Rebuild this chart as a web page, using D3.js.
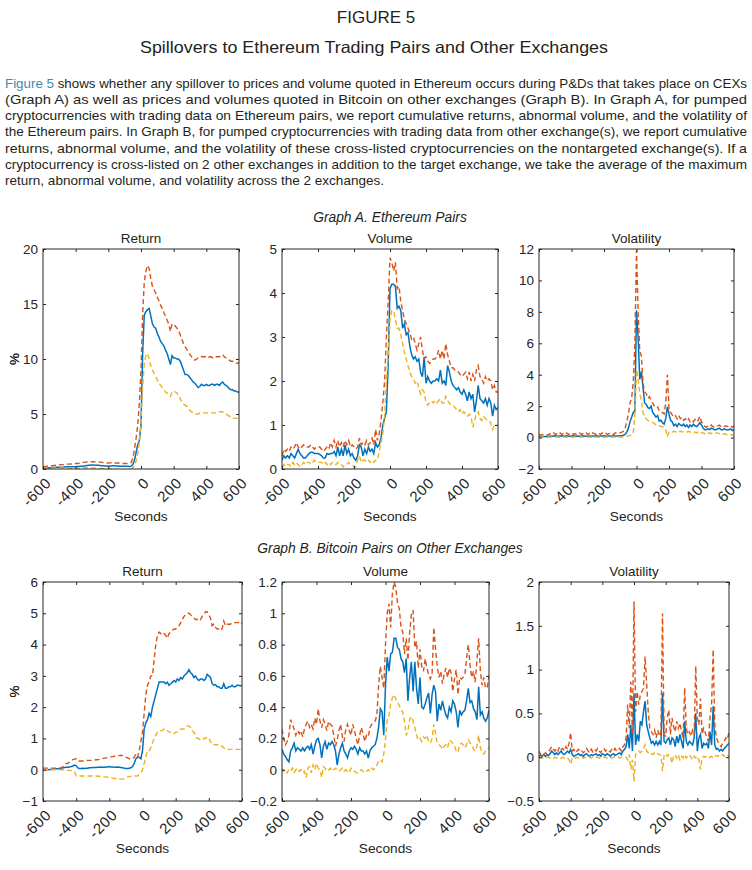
<!DOCTYPE html>
<html>
<head>
<meta charset="utf-8">
<script src="https://cdn.jsdelivr.net/npm/d3@7"></script>
<style>
body { margin:0; background:#fff; }
svg text { font-family: "Liberation Sans", Arial, Helvetica, sans-serif; fill:#231f20; }
</style>
</head>
<body>
<div id="chart"></div>
<script>
// time grid, seconds around the pump
var secs = d3.range(-600, 601, 10);
var xTicks = [-600, -400, -200, 0, 200, 400, 600];
var xTickLabels = ["-600", "-400", "-200", "0", "200", "400", "600"];

// Graph A - Ethereum pairs
var ethRetMid = [0.1,0.1,0.1,0.12,0.12,0.12,0.13,0.14,0.15,0.15,
	0.15,0.16,0.17,0.18,0.2,0.2,0.2,0.2,0.2,0.2,
	0.2,0.22,0.22,0.24,0.25,0.27,0.3,0.32,0.34,0.35,
	0.36,0.36,0.35,0.34,0.33,0.32,0.3,0.3,0.28,0.27,
	0.25,0.27,0.28,0.3,0.3,0.28,0.27,0.26,0.26,0.25,
	0.25,0.24,0.24,0.22,0.25,0.4,0.8,1.5,2.2,2.6,
	4.0,10.5,14.0,14.3,14.5,14.6,13.9,13.2,12.9,12.8,
	12.3,12.0,11.6,11.4,11.2,10.8,10.5,10.0,9.5,10.3,
	10.1,10.1,10.0,10.0,9.8,9.4,9.0,8.6,8.6,8.5,
	8.3,8.1,7.9,7.8,7.6,7.4,7.5,7.7,7.6,7.6,
	7.7,7.6,7.6,7.7,7.7,7.6,7.7,7.7,7.6,7.8,
	7.9,7.7,7.6,7.5,7.3,7.2,7.2,7.1,7.1,7.0,
	7.0];
var ethRetUp = [0.2,0.22,0.24,0.26,0.28,0.3,0.3,0.32,0.34,0.36,
	0.38,0.4,0.4,0.42,0.42,0.44,0.44,0.45,0.46,0.48,
	0.5,0.5,0.52,0.55,0.58,0.6,0.62,0.64,0.65,0.65,
	0.66,0.66,0.65,0.65,0.64,0.62,0.6,0.58,0.56,0.55,
	0.55,0.56,0.57,0.56,0.55,0.55,0.54,0.52,0.5,0.5,
	0.5,0.5,0.5,0.52,0.6,1.0,1.8,2.8,4.0,6.0,
	9.0,14.0,17.0,18.0,18.5,18.2,17.3,16.6,16.3,16.0,
	15.6,15.3,14.9,14.6,14.2,13.9,13.5,13.2,12.5,13.2,
	13.1,13.0,12.8,12.6,12.2,11.8,11.4,11.1,10.9,10.6,
	10.4,10.2,10.0,9.9,10.0,10.1,10.2,10.2,10.2,10.2,
	10.2,10.1,10.2,10.2,10.1,10.2,10.2,10.2,10.2,10.3,
	10.4,10.2,10.1,10.0,9.9,9.8,9.8,9.7,9.6,9.6,
	9.7];
var ethRetLow = [0.1,0.1,0.1,0.1,0.1,0.1,0.1,0.1,0.1,0.1,
	0.1,0.1,0.1,0.08,0.08,0.06,0.06,0.05,0.05,0.05,
	0.05,0.06,0.08,0.1,0.1,0.12,0.12,0.12,0.1,0.1,
	0.1,0.1,0.08,0.06,0.05,0.05,0.05,0.04,0.02,0.0,
	0.0,0.0,0.0,-0.02,-0.04,-0.05,-0.06,-0.08,-0.1,-0.1,
	-0.1,-0.1,-0.1,-0.1,0.0,0.1,0.3,0.7,1.4,2.5,
	4.2,7.5,9.5,10.3,10.5,10.0,9.4,9.0,8.7,8.4,
	8.1,7.8,7.6,7.4,7.2,7.0,6.9,6.8,6.6,7.0,
	7.1,7.0,6.9,6.7,6.4,6.1,5.9,5.8,5.7,5.5,
	5.3,5.2,5.1,5.0,5.0,5.0,5.1,5.1,5.1,5.1,
	5.1,5.1,5.1,5.1,5.1,5.1,5.1,5.1,5.2,5.2,
	5.2,5.1,5.0,4.9,4.8,4.7,4.7,4.6,4.6,4.6,
	4.6];

var ethVolMid = [0.2,0.3,0.25,0.3,0.25,0.35,0.3,0.25,0.35,0.45,
	0.35,0.3,0.25,0.25,0.3,0.35,0.38,0.38,0.35,0.35,
	0.35,0.33,0.3,0.25,0.25,0.35,0.33,0.35,0.35,0.4,
	0.3,0.5,0.3,0.45,0.3,0.55,0.35,0.45,0.3,0.35,
	0.25,0.2,0.3,0.55,0.5,0.3,0.45,0.35,0.5,0.4,
	0.45,0.35,0.6,0.5,0.55,0.7,1.0,1.15,1.3,2.4,
	4.1,4.2,4.2,4.15,3.65,3.7,3.6,3.2,3.3,3.05,
	3.1,2.8,2.6,2.5,2.55,2.45,2.5,2.2,2.1,2.55,
	1.95,2.1,2.0,1.95,2.0,2.0,2.05,2.0,2.25,1.95,
	2.0,1.9,2.35,2.2,2.0,1.9,1.85,1.8,1.85,1.75,
	1.7,1.8,1.7,1.55,1.75,1.6,1.7,1.3,1.55,1.9,
	1.6,1.55,1.5,1.6,1.45,1.6,1.5,1.2,1.45,1.35,
	1.4];
var ethVolUp = [0.3,0.45,0.4,0.45,0.4,0.5,0.45,0.5,0.6,0.5,
	0.45,0.5,0.55,0.5,0.5,0.5,0.55,0.5,0.45,0.5,
	0.5,0.5,0.45,0.4,0.45,0.5,0.45,0.6,0.5,0.65,
	0.5,0.65,0.5,0.6,0.5,0.65,0.55,0.65,0.5,0.55,
	0.5,0.45,0.5,0.7,0.55,0.6,0.55,0.65,0.55,0.6,
	0.7,0.55,0.9,0.65,0.8,1.1,1.5,2.0,3.0,3.8,
	4.8,4.7,4.5,4.7,4.1,4.15,3.8,3.6,3.4,3.3,
	3.2,3.1,2.95,3.0,2.85,2.7,2.85,3.0,2.7,2.5,
	2.55,2.45,2.4,2.45,2.5,2.5,2.55,2.7,2.5,2.7,
	2.5,2.85,2.6,2.45,2.3,2.3,2.25,2.25,2.2,2.15,
	2.1,2.15,2.2,2.05,2.2,2.0,2.15,2.0,2.25,2.35,
	2.1,2.05,1.95,2.1,2.0,2.05,2.0,1.8,1.9,1.75,
	1.75];
var ethVolLow = [0.05,0.1,0.05,0.1,0.1,0.05,0.15,0.1,0.15,0.1,
	0.05,0.1,0.15,0.1,0.15,0.15,0.1,0.15,0.2,0.15,
	0.15,0.15,0.15,0.1,0.15,0.1,0.15,0.1,0.15,0.15,
	0.1,0.15,0.1,0.1,0.05,0.1,0.1,0.15,0.1,0.1,
	0.05,0.05,0.2,0.3,0.15,0.2,0.2,0.15,0.2,0.15,
	0.2,0.15,0.2,0.2,0.4,0.6,0.8,1.2,2.0,2.6,
	3.4,3.6,3.6,3.4,3.2,3.2,3.05,2.85,2.65,2.5,
	2.35,2.2,2.1,2.05,1.95,2.0,1.85,1.7,1.8,1.75,
	1.5,1.45,1.5,1.55,1.5,1.55,1.5,1.55,1.6,1.5,
	1.5,1.65,1.55,1.5,1.45,1.45,1.4,1.35,1.3,1.35,
	1.25,1.3,1.25,1.2,1.25,1.2,0.95,1.1,1.25,1.3,
	1.15,1.1,1.2,1.15,1.1,1.1,1.05,0.9,1.0,1.0,
	1.0];

var ethVolaMid = [0.05,0.05,0.06,0.08,0.06,0.07,0.08,0.1,0.08,0.1,
	0.12,0.1,0.08,0.1,0.12,0.1,0.08,0.12,0.1,0.08,
	0.1,0.12,0.1,0.08,0.1,0.09,0.1,0.12,0.1,0.08,
	0.1,0.09,0.1,0.1,0.09,0.11,0.1,0.09,0.1,0.1,
	0.11,0.1,0.09,0.1,0.1,0.1,0.11,0.1,0.1,0.1,
	0.12,0.12,0.15,0.2,0.35,0.6,1.0,1.3,1.6,1.7,
	8.1,6.4,3.7,4.2,3.2,2.2,2.1,1.9,1.85,2.0,
	1.6,1.45,1.3,1.4,1.05,1.1,0.95,0.85,1.2,1.95,
	1.5,1.1,1.0,0.75,0.85,0.7,0.9,0.8,0.75,0.85,
	0.7,0.8,0.65,0.8,0.7,0.85,0.75,0.7,0.8,0.95,
	0.8,0.6,0.5,0.5,0.55,0.5,0.6,0.55,0.5,0.5,
	0.55,0.6,0.5,0.5,0.55,0.5,0.5,0.5,0.55,0.45,
	0.5];
var ethVolaUp = [0.2,0.15,0.2,0.15,0.2,0.15,0.2,0.25,0.2,0.3,
	0.2,0.25,0.2,0.3,0.2,0.25,0.2,0.3,0.2,0.25,
	0.3,0.2,0.25,0.2,0.25,0.3,0.2,0.25,0.2,0.3,
	0.2,0.25,0.2,0.3,0.25,0.2,0.3,0.25,0.2,0.3,
	0.25,0.3,0.2,0.25,0.3,0.25,0.2,0.3,0.25,0.3,
	0.3,0.35,0.4,0.6,1.0,1.5,2.2,2.5,3.5,6.0,
	11.9,8.0,5.5,5.2,3.5,2.9,2.8,2.5,2.6,2.3,
	2.2,2.0,1.9,1.95,1.7,1.6,1.6,1.5,2.2,4.0,
	1.8,1.6,1.45,1.3,1.4,1.2,1.4,1.2,1.3,1.1,
	1.2,1.05,1.2,1.0,1.1,1.0,1.15,1.0,1.1,1.35,
	1.0,0.9,0.7,0.65,0.75,0.7,0.8,0.7,0.65,0.7,
	0.75,0.8,0.7,0.65,0.7,0.75,0.7,0.7,0.75,0.65,
	0.75];
var ethVolaLow = [0.02,0.03,0.02,0.04,0.03,0.02,0.03,0.04,0.03,0.02,
	0.03,0.04,0.03,0.02,0.03,0.04,0.03,0.02,0.04,0.03,
	0.02,0.03,0.04,0.03,0.02,0.03,0.04,0.03,0.02,0.03,
	0.04,0.03,0.02,0.03,0.04,0.03,0.02,0.03,0.04,0.03,
	0.02,0.03,0.04,0.03,0.02,0.03,0.04,0.03,0.03,0.04,
	0.03,0.04,0.04,0.05,0.08,0.1,0.12,0.15,0.3,1.5,
	4.3,3.7,2.8,2.4,1.6,1.3,1.2,1.1,1.05,1.0,
	0.95,0.9,0.8,0.75,0.75,0.7,0.7,0.65,0.5,0.05,
	0.35,0.4,0.35,0.4,0.35,0.4,0.35,0.4,0.35,0.4,
	0.35,0.35,0.4,0.35,0.35,0.3,0.35,0.3,0.35,0.4,
	0.3,0.3,0.25,0.3,0.25,0.3,0.25,0.3,0.25,0.3,
	0.3,0.25,0.25,0.2,0.25,0.2,0.2,0.2,0.2,0.15,
	0.2];

// Graph B - Bitcoin pairs on other exchanges
var btcRetMid = [0.0,0.0,0.0,0.0,0.01,0.01,0.02,0.02,0.03,0.03,
	0.04,0.05,0.06,0.07,0.08,0.08,0.09,0.1,0.12,0.15,
	0.13,0.06,0.04,0.04,0.05,0.04,0.05,0.05,0.06,0.06,
	0.07,0.07,0.07,0.08,0.08,0.09,0.08,0.08,0.09,0.09,
	0.1,0.09,0.09,0.08,0.08,0.09,0.08,0.07,0.06,0.05,
	0.04,0.04,0.05,0.06,0.1,0.2,0.35,0.4,0.4,0.35,
	0.6,1.3,1.5,1.6,1.8,1.7,2.0,2.2,2.4,2.6,
	2.8,2.8,2.8,2.8,2.75,2.8,2.7,2.75,2.8,2.85,
	2.8,2.9,2.85,2.95,2.9,3.0,3.05,3.1,3.2,3.1,
	3.05,2.95,3.0,2.9,2.85,2.9,2.9,2.85,2.9,3.05,
	3.0,2.95,2.75,2.7,2.72,2.65,2.65,2.6,2.6,2.75,
	2.6,2.6,2.65,2.65,2.7,2.65,2.65,2.7,2.7,2.68,
	2.7];
var btcRetUp = [0.05,0.05,0.05,0.05,0.05,0.05,0.05,0.05,0.05,0.05,
	0.05,0.06,0.1,0.15,0.2,0.2,0.25,0.3,0.32,0.34,
	0.35,0.28,0.28,0.28,0.28,0.28,0.29,0.3,0.3,0.3,
	0.3,0.31,0.32,0.32,0.33,0.35,0.36,0.37,0.38,0.39,
	0.4,0.41,0.42,0.43,0.44,0.45,0.45,0.46,0.45,0.45,
	0.4,0.38,0.35,0.35,0.35,0.4,0.5,0.4,0.6,0.9,
	1.2,1.8,2.4,2.7,2.8,3.0,3.0,3.5,4.0,4.3,
	4.4,4.35,4.4,4.35,4.3,4.2,4.35,4.4,4.45,4.5,
	4.5,4.55,4.6,4.7,4.8,4.9,4.95,5.0,5.0,4.95,
	4.9,4.85,4.8,4.8,4.85,4.8,4.9,4.95,5.05,5.05,
	4.95,4.85,4.6,4.65,4.55,4.5,4.5,4.45,4.5,4.75,
	4.6,4.65,4.65,4.65,4.7,4.7,4.7,4.7,4.7,4.65,
	4.7];
var btcRetLow = [0.0,0.0,0.0,0.0,0.0,0.0,0.0,0.0,0.0,0.0,
	0.0,0.0,0.0,0.0,-0.01,-0.02,-0.02,-0.03,-0.04,-0.05,
	-0.2,-0.2,-0.2,-0.2,-0.2,-0.2,-0.2,-0.2,-0.2,-0.2,
	-0.2,-0.2,-0.2,-0.21,-0.21,-0.22,-0.22,-0.23,-0.23,-0.24,
	-0.25,-0.26,-0.27,-0.28,-0.29,-0.3,-0.3,-0.3,-0.3,-0.28,
	-0.25,-0.23,-0.22,-0.21,-0.2,-0.2,-0.2,-0.2,-0.15,-0.1,
	0.0,0.2,0.4,0.6,0.6,0.7,0.85,1.0,1.1,1.2,
	1.25,1.25,1.25,1.3,1.25,1.25,1.2,1.2,1.2,1.15,
	1.2,1.2,1.25,1.3,1.3,1.3,1.35,1.4,1.4,1.35,
	1.25,1.2,1.1,1.0,1.0,0.95,0.95,1.0,1.0,1.05,
	1.0,0.9,0.8,0.8,0.8,0.8,0.8,0.75,0.75,0.7,
	0.65,0.65,0.65,0.65,0.65,0.65,0.65,0.65,0.65,0.65,
	0.65];

var btcVolMid = [0.13,0.1,0.085,0.065,0.05,0.12,0.14,0.17,0.12,0.14,
	0.13,0.12,0.14,0.12,0.14,0.15,0.13,0.16,0.1,0.15,
	0.19,0.2,0.16,0.075,0.15,0.18,0.13,0.17,0.16,0.18,
	0.16,0.12,0.03,0.1,0.14,0.17,0.12,0.1,0.075,0.12,
	0.14,0.13,0.15,0.13,0.1,0.14,0.12,0.12,0.1,0.12,
	0.075,0.12,0.14,0.15,0.16,0.2,0.27,0.39,0.37,0.22,
	0.54,0.72,0.63,0.74,0.75,0.84,0.84,0.78,0.77,0.71,
	0.69,0.62,0.71,0.44,0.59,0.69,0.5,0.69,0.52,0.42,
	0.59,0.4,0.39,0.42,0.46,0.49,0.36,0.48,0.54,0.5,
	0.31,0.42,0.38,0.44,0.39,0.35,0.33,0.4,0.37,0.44,
	0.42,0.37,0.27,0.38,0.35,0.37,0.38,0.44,0.52,0.43,
	0.44,0.39,0.37,0.32,0.53,0.35,0.37,0.33,0.31,0.33,
	0.38];
var btcVolUp = [0.26,0.2,0.16,0.18,0.22,0.32,0.29,0.26,0.22,0.25,
	0.23,0.25,0.21,0.26,0.29,0.31,0.27,0.29,0.26,0.33,
	0.29,0.39,0.31,0.27,0.32,0.29,0.25,0.31,0.29,0.28,
	0.22,0.15,0.19,0.25,0.29,0.21,0.18,0.26,0.29,0.25,
	0.22,0.29,0.25,0.2,0.16,0.22,0.27,0.23,0.18,0.22,
	0.21,0.27,0.29,0.3,0.31,0.35,0.54,0.66,0.59,0.52,
	0.8,1.0,1.06,0.91,1.13,1.2,1.16,1.06,1.03,0.91,
	0.88,0.74,0.84,0.7,0.88,0.99,1.02,0.78,0.82,0.65,
	0.77,0.66,0.63,0.71,0.65,0.61,0.58,0.61,0.91,0.77,
	0.66,0.59,0.63,0.55,0.61,0.65,0.59,0.65,0.62,0.5,
	0.58,0.64,0.48,0.59,0.58,0.59,0.61,0.71,0.8,0.67,
	0.59,0.63,0.56,0.7,0.84,0.63,0.54,0.59,0.52,0.53,
	0.6];
var btcVolLow = [0.01,-0.01,0.0,-0.02,0.0,-0.01,0.01,-0.02,0.0,0.01,
	-0.01,0.0,-0.02,-0.01,-0.05,0.01,0.02,-0.02,0.03,0.0,
	0.04,0.01,0.0,-0.05,0.02,0.01,-0.01,0.0,0.01,-0.01,
	0.0,0.01,0.0,-0.01,0.0,0.01,-0.01,0.0,-0.01,-0.02,
	0.01,0.0,-0.01,-0.02,-0.02,-0.01,0.0,-0.01,-0.02,-0.01,
	0.0,-0.01,0.01,0.0,0.01,0.03,0.06,0.06,0.05,0.1,
	0.2,0.32,0.35,0.42,0.46,0.48,0.45,0.43,0.41,0.38,
	0.37,0.31,0.22,0.25,0.32,0.34,0.31,0.27,0.22,0.19,
	0.2,0.18,0.21,0.2,0.22,0.18,0.17,0.2,0.29,0.23,
	0.17,0.16,0.15,0.13,0.15,0.16,0.14,0.19,0.18,0.17,
	0.15,0.12,0.11,0.16,0.17,0.16,0.14,0.16,0.19,0.17,
	0.16,0.13,0.12,0.15,0.22,0.14,0.11,0.1,0.12,0.13,
	0.14];

var btcVolaMid = [0.01,0.02,0.01,0.03,0.01,0.03,0.02,0.04,0.07,0.05,
	0.03,0.05,0.03,0.05,0.07,0.04,0.03,0.05,0.07,0.05,
	0.09,0.03,0.01,0.02,0.03,0.04,0.02,0.03,0.01,0.03,
	0.04,0.02,0.01,0.03,0.02,0.03,0.04,0.02,0.03,0.01,
	0.04,0.03,0.02,0.04,0.03,0.01,0.03,0.04,0.02,0.03,
	0.04,0.05,0.03,0.07,0.09,0.12,0.26,0.1,0.37,0.07,
	0.73,0.14,0.26,0.18,0.41,0.37,0.52,0.64,0.37,0.29,
	0.22,0.16,0.18,0.14,0.18,0.14,0.18,0.14,0.73,0.18,
	0.16,0.2,0.22,0.14,0.22,0.2,0.12,0.24,0.16,0.26,
	0.18,0.1,0.41,0.18,0.14,0.18,0.16,0.14,0.22,0.5,
	0.07,0.22,0.26,0.1,0.16,0.14,0.16,0.1,0.29,0.14,
	0.58,0.14,0.09,0.1,0.07,0.09,0.07,0.1,0.12,0.14,
	0.16];
var btcVolaUp = [0.07,0.03,0.05,0.03,0.05,0.04,0.06,0.09,0.12,0.09,
	0.07,0.1,0.07,0.12,0.09,0.1,0.07,0.12,0.09,0.16,
	0.28,0.07,0.09,0.05,0.07,0.09,0.06,0.07,0.05,0.07,
	0.1,0.07,0.05,0.09,0.06,0.09,0.07,0.1,0.07,0.05,
	0.09,0.1,0.07,0.09,0.07,0.06,0.09,0.07,0.1,0.07,
	0.09,0.1,0.07,0.12,0.14,0.22,0.6,0.33,0.86,0.26,
	1.78,0.52,0.75,0.6,0.71,0.75,0.79,1.15,0.83,0.52,
	0.33,0.29,0.26,0.31,0.22,0.31,0.24,0.29,1.64,0.26,
	0.24,0.45,0.54,0.26,0.45,0.35,0.29,0.41,0.33,0.39,
	0.29,0.22,0.79,0.33,0.26,0.29,0.24,0.31,0.26,1.04,
	0.45,0.37,0.67,0.26,0.33,0.28,0.22,0.18,0.45,0.6,
	1.23,0.37,0.22,0.18,0.14,0.12,0.16,0.18,0.22,0.2,
	0.29];
var btcVolaLow = [-0.01,0.0,-0.01,0.0,-0.01,0.0,0.0,-0.01,0.0,-0.01,
	0.0,-0.01,0.0,0.0,-0.01,0.0,-0.01,0.0,-0.01,-0.03,
	-0.08,-0.01,0.0,-0.01,0.0,-0.01,0.0,0.0,-0.01,0.0,
	-0.01,0.0,0.0,-0.01,0.0,-0.01,0.0,0.0,-0.01,0.0,
	-0.01,0.0,0.0,-0.01,0.0,0.0,-0.01,0.0,0.0,-0.01,
	0.0,-0.01,0.0,0.0,0.0,0.0,-0.03,0.03,-0.14,-0.03,
	-0.28,0.03,0.05,0.07,0.05,0.07,0.09,0.14,0.07,0.05,
	0.03,0.04,0.03,0.05,0.03,0.04,0.03,0.02,-0.16,0.03,
	0.04,0.01,0.03,0.01,-0.07,0.01,0.03,-0.01,0.03,-0.03,
	0.01,-0.01,0.03,-0.01,0.01,0.03,0.0,-0.03,0.01,-0.01,
	0.01,-0.03,-0.14,-0.01,0.01,0.0,0.01,-0.01,0.0,0.01,
	-0.01,0.01,0.02,0.01,0.03,0.02,0.03,0.01,0.03,0.02,
	0.01];

// y ticks and their labels
var ethRetTicks = [0, 5, 10, 15, 20];
var ethRetTickLabels = ["0", "5", "10", "15", "20"];
var ethVolTicks = [0, 1, 2, 3, 4, 5];
var ethVolTickLabels = ["0", "1", "2", "3", "4", "5"];
var ethVolaTicks = [-2, 0, 2, 4, 6, 8, 10, 12];
var ethVolaTickLabels = ["\u22122", "0", "2", "4", "6", "8", "10", "12"];
var btcRetTicks = [-1, 0, 1, 2, 3, 4, 5, 6];
var btcRetTickLabels = ["\u22121", "0", "1", "2", "3", "4", "5", "6"];
var btcVolTicks = [-0.2, 0, 0.2, 0.4, 0.6, 0.8, 1, 1.2];
var btcVolTickLabels = ["\u22120.2", "0", "0.2", "0.4", "0.6", "0.8", "1", "1.2"];
var btcVolaTicks = [-0.5, 0, 0.5, 1, 1.5, 2];
var btcVolaTickLabels = ["\u22120.5", "0", "0.5", "1", "1.5", "2"];

var noteLines = [
	"shows whether any spillover to prices and volume quoted in Ethereum occurs during P&Ds that takes place on CEXs",
	"(Graph A) as well as prices and volumes quoted in Bitcoin on other exchanges (Graph B). In Graph A, for pumped",
	"cryptocurrencies with trading data on Ethereum pairs, we report cumulative returns, abnormal volume, and the volatility of",
	"the Ethereum pairs. In Graph B, for pumped cryptocurrencies with trading data from other exchange(s), we report cumulative",
	"returns, abnormal volume, and the volatility of these cross-listed cryptocurrencies on the nontargeted exchange(s). If a",
	"cryptocurrency is cross-listed on 2 other exchanges in addition to the target exchange, we take the average of the maximum",
	"return, abnormal volume, and volatility across the 2 exchanges."
];

var BLUE = "#0072bd", RED = "#d95319", YELLOW = "#edb120", AXIS = "#262626";

function drawPanel(svg, p){
	var x = d3.scaleLinear().domain([-600, 600]).range([p.left, p.right]);
	var y = d3.scaleLinear().domain(p.yDomain).range([p.bottom, p.top]);
	var g = svg.append("g");

	var clipId = "clip-" + p.id;
	g.append("clipPath").attr("id", clipId)
		.append("rect")
		.attr("x", p.left).attr("y", p.top)
		.attr("width", p.right - p.left).attr("height", p.bottom - p.top);

	var line = d3.line()
		.x(function(d, i){ return x(secs[i]); })
		.y(function(d){ return y(d); });

	var lines = g.append("g").attr("clip-path", "url(#" + clipId + ")");
	lines.append("path").attr("d", line(p.mid))
		.attr("fill", "none").attr("stroke", BLUE).attr("stroke-width", 1.5);
	lines.append("path").attr("d", line(p.up))
		.attr("fill", "none").attr("stroke", RED).attr("stroke-width", 1.4)
		.attr("stroke-dasharray", "5,3");
	lines.append("path").attr("d", line(p.low))
		.attr("fill", "none").attr("stroke", YELLOW).attr("stroke-width", 1.4)
		.attr("stroke-dasharray", "5,3");

	// box
	g.append("rect")
		.attr("x", p.left).attr("y", p.top)
		.attr("width", p.right - p.left).attr("height", p.bottom - p.top)
		.attr("fill", "none").attr("stroke", AXIS).attr("stroke-width", 1);

	var bottom = g.append("g")
		.attr("transform", "translate(0," + p.bottom + ")")
		.call(d3.axisBottom(x).tickValues(xTicks).tickSize(-3).tickSizeOuter(0)
			.tickFormat(function(d, i){ return xTickLabels[i]; }));

	g.append("g")
		.attr("transform", "translate(0," + p.top + ")")
		.call(d3.axisTop(x).tickValues(xTicks).tickSize(-3).tickSizeOuter(0).tickFormat(""));

	g.append("g")
		.attr("transform", "translate(" + p.left + ",0)")
		.call(d3.axisLeft(y).tickValues(p.yTicks).tickSize(-3).tickSizeOuter(0).tickPadding(5)
			.tickFormat(function(d, i){ return p.yLabels[i]; }));

	g.append("g")
		.attr("transform", "translate(" + p.right + ",0)")
		.call(d3.axisRight(y).tickValues(p.yTicks).tickSize(-3).tickSizeOuter(0).tickFormat(""));

	g.selectAll(".domain").remove();
	g.selectAll(".tick line").attr("stroke", AXIS);
	g.selectAll(".tick text")
		.style("font-family", "'Liberation Sans', Arial, sans-serif")
		.style("font-size", "13.5px").style("fill", AXIS);

	bottom.selectAll("text")
		.attr("x", 0).attr("y", 0).attr("dy", "0.35em")
		.attr("transform", "translate(5,11) rotate(-45)")
		.style("text-anchor", "end")
		.style("font-size", "15px")
		.style("letter-spacing", "0.8px");

	g.append("text")
		.attr("x", (p.left + p.right) / 2).attr("y", p.top - 6)
		.attr("text-anchor", "middle").style("font-size", "13.5px")
		.text(p.title);

	g.append("text")
		.attr("x", (p.left + p.right) / 2).attr("y", p.bottom + 52)
		.attr("text-anchor", "middle").style("font-size", "13.7px")
		.text("Seconds");

	if (p.yTitle){
		g.append("text")
			.attr("transform", "translate(19," + ((p.top + p.bottom) / 2) + ") rotate(-90)")
			.attr("text-anchor", "middle").style("font-size", "13.5px")
			.text(p.yTitle);
	}
}

window.onload = function(){
	var w = 752, h = 870;

	var svg = d3.select("#chart")
		.append("svg")
		.attr("width", w)
		.attr("height", h)
		.style("background-color", "#fff");

	svg.append("text")
		.attr("x", 376).attr("y", 23)
		.attr("text-anchor", "middle")
		.style("font-size", "17px")
		.text("FIGURE 5");

	svg.append("text")
		.attr("x", 140).attr("y", 53)
		.attr("textLength", 468).attr("lengthAdjust", "spacingAndGlyphs")
		.style("font-size", "16.5px")
		.text("Spillovers to Ethereum Trading Pairs and Other Exchanges");

	noteLines.forEach(function(txt, i){
		var t = svg.append("text")
			.attr("x", 5).attr("y", 88 + i * 16.15)
			.style("font-size", "12.6px");
		if (i == 0){
			t.append("tspan").style("fill", "#3c8dac").text("Figure 5 ");
		}
		t.append("tspan").text(txt);
		if (i < noteLines.length - 1){
			t.attr("textLength", 742).attr("lengthAdjust", "spacingAndGlyphs");
		} else {
			t.attr("textLength", 379).attr("lengthAdjust", "spacingAndGlyphs");
		}
	});

	svg.append("text")
		.attr("x", 390).attr("y", 222)
		.attr("text-anchor", "middle")
		.style("font-size", "13.8px").style("font-style", "italic")
		.text("Graph A. Ethereum Pairs");

	svg.append("text")
		.attr("x", 390).attr("y", 553)
		.attr("text-anchor", "middle")
		.style("font-size", "13.8px").style("font-style", "italic")
		.text("Graph B. Bitcoin Pairs on Other Exchanges");

	drawPanel(svg, {id: "a1", left: 43, right: 239, top: 249, bottom: 469, yDomain: [0, 20],
		yTicks: ethRetTicks, yLabels: ethRetTickLabels, title: "Return", yTitle: "%",
		mid: ethRetMid, up: ethRetUp, low: ethRetLow});
	drawPanel(svg, {id: "a2", left: 282, right: 498, top: 249, bottom: 469, yDomain: [0, 5],
		yTicks: ethVolTicks, yLabels: ethVolTickLabels, title: "Volume",
		mid: ethVolMid, up: ethVolUp, low: ethVolLow});
	drawPanel(svg, {id: "a3", left: 539, right: 734, top: 249, bottom: 469, yDomain: [-2, 12],
		yTicks: ethVolaTicks, yLabels: ethVolaTickLabels, title: "Volatility", yTitle: "%",
		mid: ethVolaMid, up: ethVolaUp, low: ethVolaLow});

	drawPanel(svg, {id: "b1", left: 43, right: 242, top: 582, bottom: 801, yDomain: [-1, 6],
		yTicks: btcRetTicks, yLabels: btcRetTickLabels, title: "Return", yTitle: "%",
		mid: btcRetMid, up: btcRetUp, low: btcRetLow});
	drawPanel(svg, {id: "b2", left: 282, right: 489, top: 582, bottom: 801, yDomain: [-0.2, 1.2],
		yTicks: btcVolTicks, yLabels: btcVolTickLabels, title: "Volume",
		mid: btcVolMid, up: btcVolUp, low: btcVolLow});
	drawPanel(svg, {id: "b3", left: 539, right: 729, top: 582, bottom: 801, yDomain: [-0.5, 2],
		yTicks: btcVolaTicks, yLabels: btcVolaTickLabels, title: "Volatility", yTitle: "%",
		mid: btcVolaMid, up: btcVolaUp, low: btcVolaLow});
}
</script>
</body>
</html>
